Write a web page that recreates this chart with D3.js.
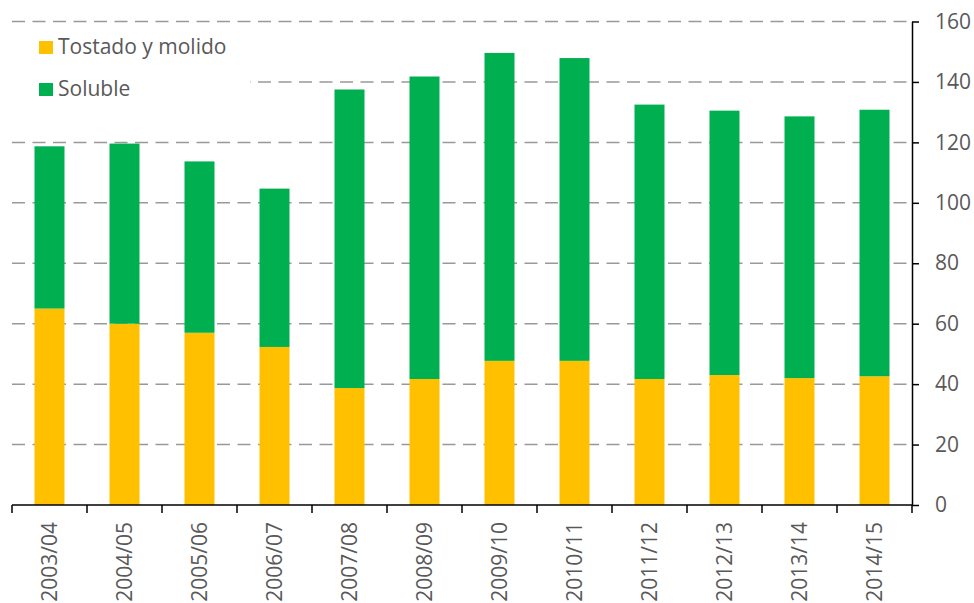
<!DOCTYPE html>
<html>
<head>
<meta charset="utf-8">
<script src="https://cdn.jsdelivr.net/npm/d3@7"></script>
<style>
  body { margin: 0; background: #fff; }
  svg { display: block; font-family: 'Open Sans', sans-serif; }
</style>
</head>
<body>
<svg id="chart"></svg>
<script>
const categories = ['2003/04', '2004/05', '2005/06', '2006/07', '2007/08', '2008/09',
  '2009/10', '2010/11', '2011/12', '2012/13', '2013/14', '2014/15'];
const tostado = [65, 60, 57, 52.3, 38.7, 41.7, 47.7, 47.7, 41.7, 43, 42, 42.6];
const soluble = [53.7, 59.6, 56.7, 52.4, 98.8, 100.1, 101.9, 100.2, 90.8, 87.5, 86.6, 88.2];
const yTicks = [0, 20, 40, 60, 80, 100, 120, 140, 160];
const seriesNames = ['Tostado y molido', 'Soluble'];
const colors = ['#FFC000', '#00B050'];

const width = 974, height = 603;
const margin = { top: 21.5, right: 62, bottom: 98, left: 12 };
const textColor = '#595959';

const svg = d3.select('#chart').attr('width', width).attr('height', height);

const x = d3.scaleBand()
  .domain(categories)
  .range([margin.left, width - margin.right])
  .paddingInner(0.6)
  .paddingOuter(0.3);

const y = d3.scaleLinear()
  .domain([0, 160])
  .range([height - margin.bottom, margin.top]);

const rows = categories.map((c, i) => ({ cat: c, tostado: tostado[i], soluble: soluble[i] }));
const stacked = d3.stack().keys(['tostado', 'soluble'])(rows);

// gridlines
svg.append('g')
  .selectAll('line')
  .data(yTicks.filter(t => t > 0))
  .join('line')
  .attr('x1', margin.left)
  .attr('x2', width - margin.right)
  .attr('y1', d => y(d))
  .attr('y2', d => y(d))
  .attr('stroke', '#999')
  .attr('stroke-width', 1.5)
  .attr('stroke-dasharray', '13,7.5');

// legend backdrop hides the grid behind it
svg.append('rect')
  .attr('x', margin.left).attr('y', 30)
  .attr('width', 238).attr('height', 78)
  .attr('fill', '#fff');

// bars
svg.append('g')
  .selectAll('g')
  .data(stacked)
  .join('g')
  .attr('fill', (d, i) => colors[i])
  .selectAll('rect')
  .data(d => d)
  .join('rect')
  .attr('x', d => x(d.data.cat))
  .attr('y', d => y(d[1]))
  .attr('width', x.bandwidth())
  .attr('height', d => y(d[0]) - y(d[1]));

// x axis
const xAxis = svg.append('g');
xAxis.append('line')
  .attr('x1', margin.left).attr('x2', width - margin.right)
  .attr('y1', y(0)).attr('y2', y(0))
  .attr('stroke', '#000').attr('stroke-width', 1.5);
xAxis.selectAll('line.tick')
  .data(d3.range(categories.length + 1))
  .join('line')
  .attr('class', 'tick')
  .attr('x1', i => margin.left + i * x.step())
  .attr('x2', i => margin.left + i * x.step())
  .attr('y1', y(0)).attr('y2', y(0) + 8)
  .attr('stroke', '#000').attr('stroke-width', 1.5);
xAxis.selectAll('text')
  .data(categories)
  .join('text')
  .attr('transform', d => `translate(${x(d) + x.bandwidth() / 2},${y(0) + 17}) rotate(-90)`)
  .attr('dy', '0.36em')
  .attr('text-anchor', 'end')
  .attr('fill', textColor)
  .style('font-size', '21px')
  .text(d => d);

// y axis on the right
const yAxis = svg.append('g')
  .attr('transform', `translate(${width - margin.right},0)`)
  .call(d3.axisRight(y).tickValues(yTicks).tickSize(7).tickPadding(16).tickSizeOuter(0));
yAxis.select('.domain').attr('stroke', '#000').attr('stroke-width', 1.5);
yAxis.selectAll('.tick line').attr('stroke', '#000').attr('stroke-width', 1.5);
yAxis.selectAll('.tick text')
  .attr('fill', textColor)
  .style('font-size', '21px')
  .style('font-family', "'Open Sans', sans-serif");

// legend
const legend = svg.append('g');
seriesNames.forEach((name, i) => {
  const g = legend.append('g').attr('transform', `translate(39,${41 + i * 42})`);
  g.append('rect').attr('width', 14).attr('height', 13).attr('fill', colors[i]);
  g.append('text')
    .attr('x', 19).attr('y', 13)
    .attr('fill', textColor)
    .style('font-size', '21px')
    .text(name);
});
</script>
</body>
</html>
